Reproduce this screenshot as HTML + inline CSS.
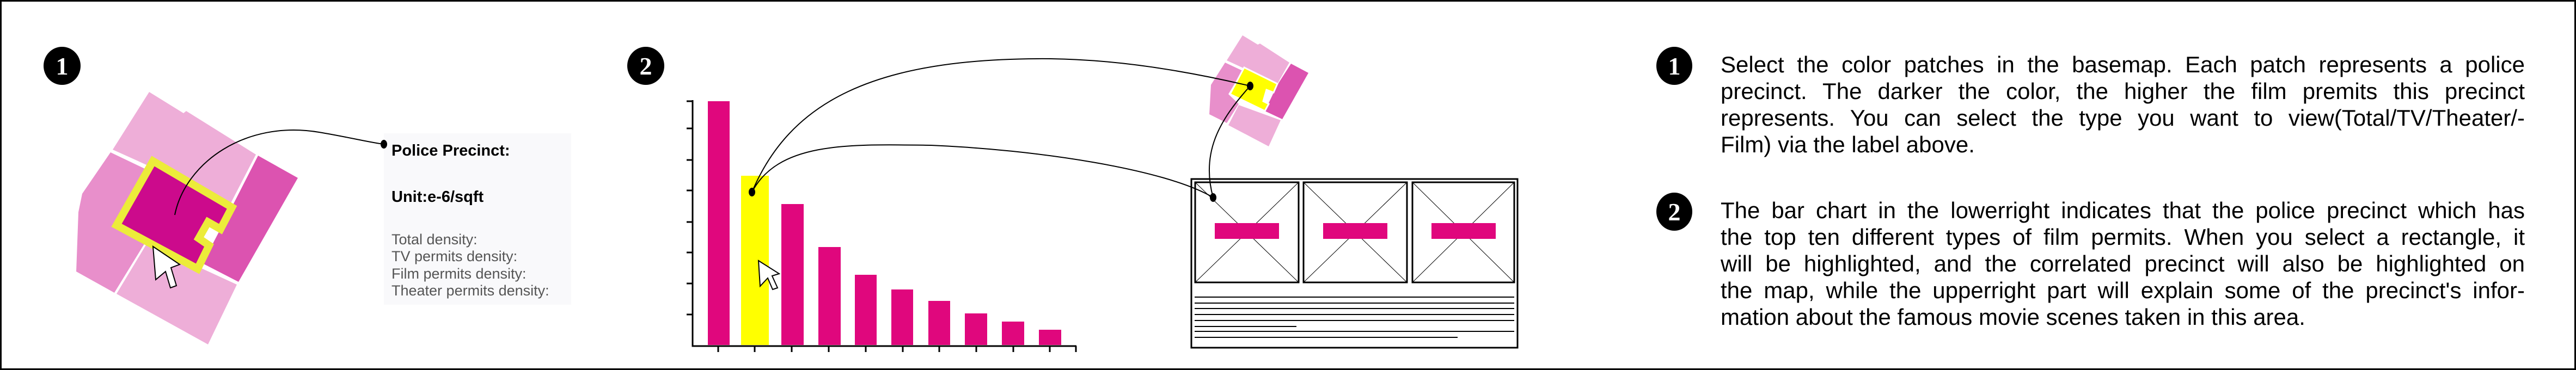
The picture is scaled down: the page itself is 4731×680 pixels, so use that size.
<!DOCTYPE html>
<html><head><meta charset="utf-8"><style>
html,body{margin:0;padding:0;background:#fff;}
body{width:4731px;height:680px;position:relative;overflow:hidden;}
.frame{position:absolute;left:0;top:0;width:4725px;height:674px;border:3px solid #000;}
.para{position:absolute;left:3160px;width:1477px;font-family:"Liberation Sans",sans-serif;font-size:42px;color:#000;}
.para div{height:49px;line-height:49px;text-align:justify;text-align-last:justify;white-space:nowrap;}
.para div.l{text-align-last:left;}
</style></head><body>
<div class="frame"></div>
<svg width="4731" height="680" style="position:absolute;left:0;top:0">
<g font-family="Liberation Serif,serif" font-weight="bold" fill="#fff" font-size="46" text-anchor="middle">
<ellipse cx="114" cy="121" rx="34" ry="35" fill="#000"/><text x="114" y="137">1</text>
<ellipse cx="1186" cy="121" rx="34" ry="35" fill="#000"/><text x="1186" y="137">2</text>
<ellipse cx="3075" cy="121" rx="33" ry="35" fill="#000"/><text x="3075" y="137">1</text>
<ellipse cx="3075" cy="389" rx="33" ry="35" fill="#000"/><text x="3075" y="405">2</text>
</g>
<polygon points="274,169 337,208 342,204 470,284 424,373 207,275" fill="#eeaed8"/>
<polygon points="203,280 270,312 267,445 210,538 140,499 144,390 151,356" fill="#e88fcb"/>
<polygon points="474,286 547,327 438,518 372,484 424,384" fill="#dc53b0"/>
<polygon points="214,540 270,447 435,523 382,633" fill="#eeaed8"/>
<polygon points="281,296 426,381 405,421 382,408 365,438 384,451 363,494 214,414" fill="#cc0a8c" stroke="#ecec3a" stroke-width="14" stroke-linejoin="miter"/>
<polygon points="281,453 330,486 314,492 324,525 313,529 304,499 286,514" fill="#fff" stroke="#000" stroke-width="2"/>
<rect x="705" y="245" width="344" height="315" fill="#f9f9fb"/>
<path d="M321,395 C340,300 450,220 586,243 C640,252 680,262 705,265" fill="none" stroke="#000" stroke-width="2"/>
<ellipse cx="705" cy="265" rx="6" ry="8" fill="#000"/>
<g fill="#e0077d">
<rect x="1300" y="186" width="40" height="448"/>
<rect x="1435" y="375" width="41" height="259"/>
<rect x="1503" y="454" width="41" height="180"/>
<rect x="1570" y="505" width="40" height="129"/>
<rect x="1637" y="532" width="40" height="102"/>
<rect x="1705" y="553" width="40" height="81"/>
<rect x="1772" y="576" width="41" height="58"/>
<rect x="1840" y="591" width="41" height="43"/>
<rect x="1908" y="606" width="41" height="28"/>
</g>
<rect x="1361" y="323" width="51" height="311" fill="#ffff00"/>
<g stroke="#000" stroke-width="3" fill="none">
<path d="M1272,184 V636 H1977"/>
<path d="M1261,186H1272M1261,236H1272M1261,294H1272M1261,350H1272M1261,408H1272M1261,464H1272M1261,521H1272M1261,578H1272"/>
<path d="M1319,636V647M1386,636V647M1454,636V647M1522,636V647M1590,636V647M1658,636V647M1725,636V647M1793,636V647M1861,636V647M1928,636V647M1976,636V647"/>
</g>
<polygon points="1393,479 1431,503 1418,507 1428,529 1419,532 1410,511 1396,526" fill="#fff" stroke="#000" stroke-width="2"/>
<polygon points="2282,65 2310,82 2314,80 2368,115 2346,154 2253,111" fill="#eeaed8"/>
<polygon points="2250,115 2282,130 2256,173 2275,191 2253,226 2221,210 2224,156" fill="#e88fcb"/>
<polygon points="2371,117 2403,134 2355,219 2323,204 2346,156" fill="#dc53b0"/>
<polygon points="2256,230 2275,193 2352,221 2330,269" fill="#eeaed8"/>
<polygon points="2285,124 2346,154 2339,170 2326,165 2320,186 2330,191 2323,204 2259,173" fill="#ffff00" stroke="#fff" stroke-width="3"/>
<rect x="2188" y="329" width="599" height="310" fill="#fff" stroke="#000" stroke-width="3"/>
<g stroke="#000" fill="none">
<rect x="2195" y="335" width="190" height="184" stroke-width="3"/>
<rect x="2394" y="335" width="190" height="184" stroke-width="3"/>
<rect x="2594" y="335" width="187" height="184" stroke-width="3"/>
<path d="M2196,336L2384,518M2384,336L2196,518M2395,336L2583,518M2583,336L2395,518M2595,336L2780,518M2780,336L2595,518" stroke-width="1"/>
<path d="M2194,546H2781M2194,557H2781M2194,567H2781M2194,578H2781M2194,589H2781M2194,600H2381M2194,609H2781M2194,620H2677" stroke-width="2"/>
</g>
<g fill="#e0077d">
<rect x="2231" y="410" width="118" height="29"/>
<rect x="2430" y="410" width="118" height="29"/>
<rect x="2629" y="410" width="118" height="29"/>
</g>
<g fill="none" stroke="#000" stroke-width="2">
<path d="M1381,353 C1450,190 1600,105 1930,108 C2080,110 2220,140 2296,158"/>
<path d="M1381,353 C1430,260 1560,265 1710,267 C1900,275 2140,310 2228,363"/>
<path d="M2296,158 C2240,220 2205,280 2228,363"/>
</g>
<ellipse cx="2296" cy="158" rx="6" ry="8" fill="#000"/>
<ellipse cx="2228" cy="363" rx="6" ry="8" fill="#000"/>
<ellipse cx="1381" cy="353" rx="6" ry="8" fill="#000"/>
<g font-family="Liberation Sans,sans-serif">
<text x="719" y="286" font-size="29" font-weight="bold">Police Precinct:</text>
<text x="719" y="371" font-size="29" font-weight="bold">Unit:e-6/sqft</text>
<g font-size="27" fill="#555">
<text x="719" y="449">Total density:</text>
<text x="719" y="480">TV permits density:</text>
<text x="719" y="512">Film permits density:</text>
<text x="719" y="543">Theater permits density:</text>
</g>
</g>
</svg>
<div class="para" style="top:94px">
<div>Select the color patches in the basemap. Each patch represents a police</div>
<div>precinct. The darker the color, the higher the film premits this precinct</div>
<div>represents. You can select the type you want to view(Total/TV/Theater/-</div>
<div class="l">Film) via the label above.</div>
</div>
<div class="para" style="top:362px">
<div>The bar chart in the lowerright indicates that the police precinct which has</div>
<div>the top ten different types of film permits. When you select a rectangle, it</div>
<div>will be highlighted, and the correlated precinct will also be highlighted on</div>
<div>the map, while the upperright part will explain some of the precinct's infor-</div>
<div class="l">mation about the famous movie scenes taken in this area.</div>
</div>
</body></html>
